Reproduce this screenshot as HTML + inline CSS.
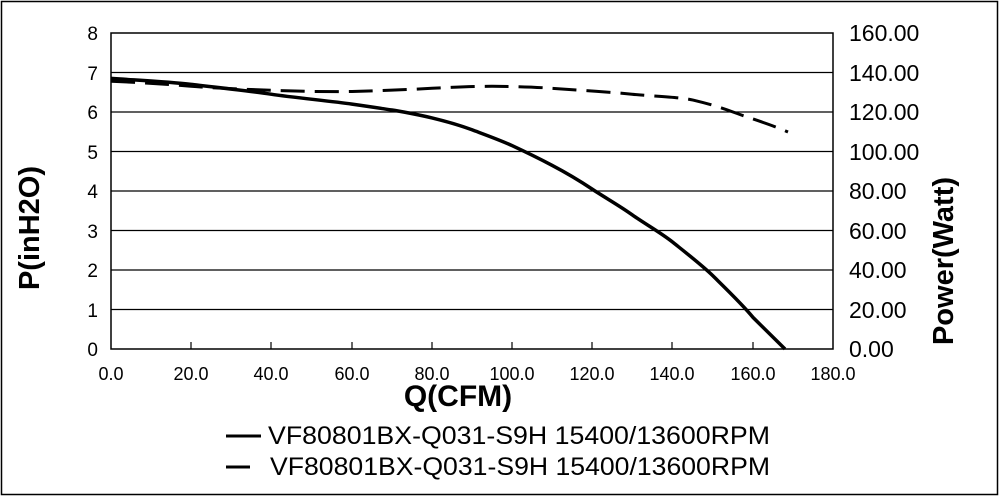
<!DOCTYPE html>
<html><head><meta charset="utf-8"><style>
html,body{margin:0;padding:0;background:#fff}
svg{display:block}
text{font-family:"Liberation Sans",Arial,sans-serif;fill:#000}
</style></head><body>
<svg width="1000" height="497" viewBox="0 0 1000 497">
<rect x="1.5" y="1.5" width="996" height="493" fill="#fff" stroke="#000" stroke-width="1.5"/>
<g stroke="#000" stroke-width="1.2">
<line x1="111" y1="72.5" x2="833" y2="72.5"/>
<line x1="111" y1="112" x2="833" y2="112"/>
<line x1="111" y1="151.5" x2="833" y2="151.5"/>
<line x1="111" y1="191" x2="833" y2="191"/>
<line x1="111" y1="230.5" x2="833" y2="230.5"/>
<line x1="111" y1="270" x2="833" y2="270"/>
<line x1="111" y1="309.5" x2="833" y2="309.5"/>
</g>
<rect x="111" y="33" width="722" height="316" fill="none" stroke="#000" stroke-width="1.5"/>
<g stroke="#000" stroke-width="1.2">
<line x1="191" y1="342" x2="191" y2="349"/><line x1="271" y1="342" x2="271" y2="349"/>
<line x1="352" y1="342" x2="352" y2="349"/><line x1="432" y1="342" x2="432" y2="349"/>
<line x1="512" y1="342" x2="512" y2="349"/><line x1="592" y1="342" x2="592" y2="349"/>
<line x1="672" y1="342" x2="672" y2="349"/><line x1="753" y1="342" x2="753" y2="349"/>
</g>
<g font-size="19" text-anchor="end">
<text x="98" y="40">8</text><text x="98" y="80">7</text><text x="98" y="119">6</text>
<text x="98" y="159">5</text><text x="98" y="198">4</text><text x="98" y="238">3</text>
<text x="98" y="277">2</text><text x="98" y="317">1</text><text x="98" y="356">0</text>
</g>
<g font-size="23">
<text x="849" y="41">160.00</text><text x="849" y="81">140.00</text><text x="849" y="120">120.00</text>
<text x="849" y="160">100.00</text><text x="849" y="199">80.00</text><text x="849" y="239">60.00</text>
<text x="849" y="278">40.00</text><text x="849" y="318">20.00</text><text x="849" y="357">0.00</text>
</g>
<g font-size="18" text-anchor="middle">
<text x="111" y="380">0.0</text><text x="191" y="380">20.0</text><text x="271" y="380">40.0</text>
<text x="352" y="380">60.0</text><text x="432" y="380">80.0</text><text x="512" y="380">100.0</text>
<text x="592" y="380">120.0</text><text x="672" y="380">140.0</text><text x="753" y="380">160.0</text>
<text x="833" y="380">180.0</text>
</g>
<text x="458" y="406" font-size="30" font-weight="bold" text-anchor="middle">Q(CFM)</text>
<text transform="translate(39,228) rotate(-90)" font-size="29" font-weight="bold" text-anchor="middle">P(inH2O)</text>
<text transform="translate(953,261) rotate(-90)" font-size="29" font-weight="bold" text-anchor="middle">Power(Watt)</text>
<path d="M111,78.4 C150,81 170,82 191,84.4 S250,91 271,94.2 S330,101 352,104.1 S385,109 392,110 S420,115 432,117.9 S462,126 472,129.8 S500,140 512,145.6 S540,159 552,165.3 S580,181 592,189 S620,206 632,214.7 S660,232 673,242.4 S703,266 713,275.9 S743,305 753,317.4 L785,349" fill="none" stroke="#000" stroke-width="3.5"/>
<path d="M111,81.2 C150,83 170,84.5 191,86.3 S250,89.5 271,90.3 S330,92 352,91.5 S410,89.5 432,88.3 S475,86.3 492,86.3 S535,87 552,88.3 S610,92 632,94.2 S680,97 693,100.1 S720,107 733,112 S770,124 788,132" fill="none" stroke="#000" stroke-width="3" stroke-dasharray="24,10"/>
<line x1="226" y1="436" x2="261" y2="436" stroke="#000" stroke-width="3"/>
<text x="268" y="444" font-size="25" textLength="502" lengthAdjust="spacingAndGlyphs">VF80801BX-Q031-S9H 15400/13600RPM</text>
<line x1="226" y1="467" x2="250" y2="467" stroke="#000" stroke-width="3"/>
<text x="270" y="475" font-size="25" textLength="500" lengthAdjust="spacingAndGlyphs">VF80801BX-Q031-S9H 15400/13600RPM</text>
</svg>
</body></html>
